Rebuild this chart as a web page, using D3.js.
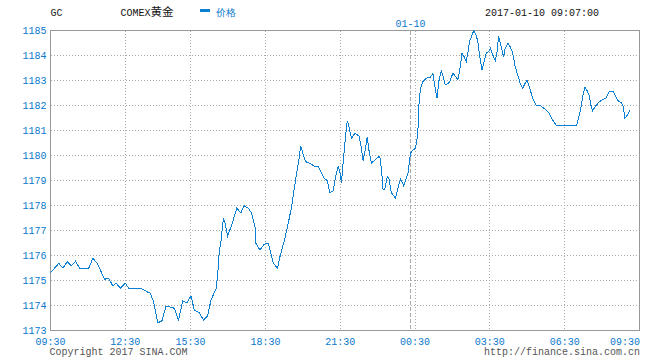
<!DOCTYPE html>
<html>
<head>
<meta charset="utf-8">
<script src="https://cdn.jsdelivr.net/npm/d3@7"></script>
<style>
  html, body { margin: 0; padding: 0; background: #fff; }
  svg { display: block; }
  text { font-family: "Liberation Mono", "DejaVu Sans Mono", monospace; font-size: 10px; }
</style>
</head>
<body>
<svg id="chart" width="660" height="360"></svg>
<script>
// ---- data (trading minutes since 09:30 session start, price) ----
const symbol = "GC";
const title = "COMEX";
const titleCjk = "黄金";
const seriesName = "价格";
const stamp = "2017-01-10 09:07:00";
const dayLabel = "01-10";
const dayBreakMinute = 866;

const yTicks = [1173, 1174, 1175, 1176, 1177, 1178, 1179, 1180, 1181, 1182, 1183, 1184, 1185];
const xTickMinutes = [0, 180, 337, 517, 697, 877, 1057, 1237, 1417];
const xTickLabels = ["09:30", "12:30", "15:30", "18:30", "21:30", "00:30", "03:30", "06:30", "09:30"];

const minutes = [
  0, 20, 30, 40, 50, 60, 70, 92, 102, 112, 120, 130, 140, 150, 158, 168, 180, 188, 218, 232,
  240, 248, 258, 268, 278, 298, 308, 318, 328, 338, 346, 358, 368, 378, 386, 398, 402, 406, 410, 416,
  420, 426, 436, 448, 458, 466, 476, 484, 492, 494, 504, 514, 524, 530, 536, 546, 552, 564, 572, 580,
  586, 592, 597, 602, 606, 614, 624, 634, 644, 652, 658, 666, 672, 680, 686, 692, 696, 700, 706, 710,
  714, 718, 724, 732, 742, 748, 752, 758, 762, 766, 772, 782, 792, 796, 800, 804, 810, 814, 820, 830,
  838, 842, 850, 860, 866, 872, 878, 882, 884, 886, 890, 896, 904, 914, 920, 924, 930, 934, 940, 944,
  950, 960, 968, 976, 980, 984, 990, 996, 1000, 1004, 1008, 1014, 1018, 1024, 1028, 1032, 1038, 1044, 1048, 1054,
  1058, 1064, 1070, 1074, 1078, 1082, 1086, 1090, 1094, 1100, 1106, 1112, 1118, 1124, 1130, 1136, 1142, 1146, 1152, 1160,
  1168, 1180, 1190, 1200, 1208, 1216, 1266, 1270, 1276, 1280, 1286, 1290, 1296, 1300, 1304, 1310, 1318, 1326, 1336, 1344,
  1354, 1360, 1366, 1374, 1378, 1382, 1388, 1394
];
const prices = [
  1175.31, 1175.69, 1175.49, 1175.75, 1175.58, 1175.77, 1175.49, 1175.49, 1175.89, 1175.69, 1175.42, 1175.05, 1175.09, 1174.78, 1174.89, 1174.69, 1174.89, 1174.69, 1174.69, 1174.55,
  1174.49, 1174.15, 1173.31, 1173.38, 1173.98, 1173.89, 1173.42, 1174.18, 1174.11, 1174.38, 1173.82, 1173.71, 1173.42, 1173.58, 1174.22, 1174.65, 1175.18, 1176.15, 1176.55, 1177.49,
  1177.29, 1176.78, 1177.22, 1177.89, 1177.71, 1177.99, 1177.89, 1177.69, 1177.15, 1176.49, 1176.22, 1176.45, 1176.49, 1176.09, 1175.69, 1175.49, 1175.95, 1176.69, 1177.29, 1177.95,
  1178.62, 1179.29, 1179.75, 1180.39, 1180.15, 1179.75, 1179.69, 1179.58, 1179.55, 1179.29, 1179.09, 1178.99, 1178.51, 1178.58, 1179.15, 1179.55, 1179.35, 1178.91, 1180.09, 1180.82,
  1181.39, 1181.15, 1180.69, 1180.89, 1180.78, 1180.29, 1179.79, 1180.29, 1180.75, 1180.22, 1179.69, 1179.85, 1179.98, 1179.49, 1178.65, 1178.62, 1179.15, 1179.09, 1178.51, 1178.29,
  1178.82, 1179.05, 1178.78, 1179.29, 1180.09, 1180.22, 1180.29, 1180.69, 1181.02, 1181.95, 1182.69, 1182.95, 1183.09, 1183.13, 1183.29, 1182.82, 1182.29, 1182.95, 1183.39, 1183.18,
  1182.82, 1182.93, 1183.29, 1183.13, 1183.02, 1183.35, 1184.09, 1183.93, 1183.75, 1184.09, 1184.55, 1184.82, 1184.98, 1184.82, 1184.55, 1184.02, 1183.42, 1183.82, 1184.09, 1184.15,
  1184.29, 1184.02, 1183.79, 1184.09, 1184.78, 1184.51, 1184.25, 1183.93, 1184.29, 1184.49, 1184.35, 1184.09, 1183.55, 1183.22, 1182.89, 1182.69, 1182.89, 1183.02, 1182.75, 1182.29,
  1182.02, 1181.98, 1181.85, 1181.69, 1181.42, 1181.22, 1181.22, 1181.49, 1181.89, 1182.35, 1182.75, 1182.62, 1182.42, 1182.02, 1181.79, 1181.95, 1182.11, 1182.22, 1182.29, 1182.55,
  1182.55, 1182.35, 1182.18, 1182.11, 1181.95, 1181.49, 1181.62, 1181.79
];

// ---- drawing ----
const BLUE = "#0a78cc";
const LINE = "#0b7fd2";
const GRID = "#aaaaaa";
const FRAME = "#999999";

const svg = d3.select("#chart");
const padL = 50.5, padR = 639.5, padT = 30.5, padB = 330.5;

const x = d3.scaleLinear().domain([0, 1417]).range([padL, padR]);
const y = d3.scaleLinear().domain([1173, 1185]).range([padB, padT]);
const px = v => Math.round(v - 0.5) + 0.5;

const data = minutes.map((m, i) => ({ m, p: prices[i] }));

// grid
const g = svg.append("g").attr("shape-rendering", "crispEdges");
g.selectAll("line.h").data(yTicks.slice(1, -1)).join("line")
  .attr("x1", padL).attr("x2", padR)
  .attr("y1", d => px(y(d))).attr("y2", d => px(y(d)))
  .attr("stroke", GRID).attr("stroke-dasharray", "1,2");
g.selectAll("line.v").data(xTickMinutes.slice(1, -1)).join("line")
  .attr("y1", padT).attr("y2", padB)
  .attr("x1", d => px(x(d))).attr("x2", d => px(x(d)))
  .attr("stroke", GRID).attr("stroke-dasharray", "1,2");
g.append("line")
  .attr("x1", px(x(dayBreakMinute))).attr("x2", px(x(dayBreakMinute)))
  .attr("y1", padT).attr("y2", padB)
  .attr("stroke", GRID).attr("stroke-dasharray", "4,2");

// frame
svg.append("rect").attr("x", padL).attr("y", padT)
  .attr("width", padR - padL).attr("height", padB - padT)
  .attr("fill", "none").attr("stroke", FRAME).attr("shape-rendering", "crispEdges");

// line
svg.append("path").datum(data)
  .attr("fill", "none").attr("stroke", LINE).attr("stroke-width", 1)
  .attr("shape-rendering", "crispEdges")
  .attr("d", d3.line().x(d => x(d.m)).y(d => y(d.p)));

// y labels
svg.append("g").selectAll("text").data(yTicks).join("text")
  .attr("x", 46.5).attr("y", d => y(d) + 3.5)
  .attr("text-anchor", "end").attr("fill", BLUE)
  .text(d => d);

// x labels
svg.append("g").selectAll("text").data(xTickMinutes).join("text")
  .attr("x", (d, i) => i === xTickMinutes.length - 1 ? 640 : x(d))
  .attr("y", 344.5)
  .attr("text-anchor", (d, i) => i === xTickMinutes.length - 1 ? "end" : "middle")
  .attr("fill", BLUE)
  .text((d, i) => xTickLabels[i]);

// day label
svg.append("text").attr("x", x(dayBreakMinute)).attr("y", 26.5)
  .attr("text-anchor", "middle").attr("fill", BLUE).text(dayLabel);

// header
svg.append("text").attr("x", 50.5).attr("y", 15.5).attr("fill", "#222").text(symbol);
const t = svg.append("text").attr("x", 120.5).attr("y", 15.5).attr("fill", "#111");
t.append("tspan").text(title);
t.append("tspan").attr("font-family", "'Noto Sans CJK SC', sans-serif").attr("font-size", "11.5px").text(titleCjk);
svg.append("rect").attr("x", 200).attr("y", 9).attr("width", 10).attr("height", 3).attr("fill", LINE);
svg.append("text").attr("x", 216).attr("y", 15.5).attr("fill", BLUE)
  .attr("font-family", "'Noto Sans CJK SC', sans-serif").attr("font-size", "11.5px").text(seriesName);
svg.append("text").attr("x", 599).attr("y", 15.5).attr("text-anchor", "end").attr("fill", "#111").text(stamp);

// footer
svg.append("text").attr("x", 49.5).attr("y", 355).attr("fill", "#555").text("Copyright 2017 SINA.COM");
svg.append("text").attr("x", 640).attr("y", 355).attr("text-anchor", "end").attr("fill", "#555").text("http://finance.sina.com.cn");
</script>
</body>
</html>
